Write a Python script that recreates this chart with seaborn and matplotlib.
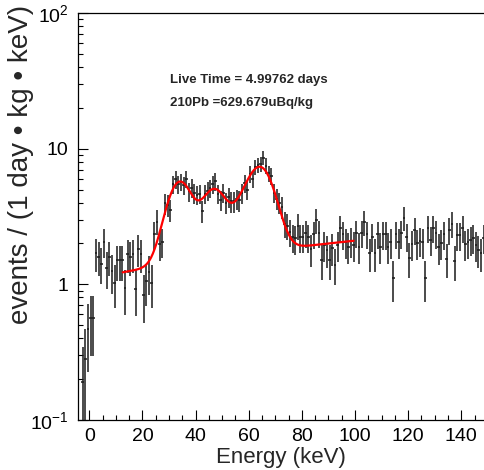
import numpy as np
import pandas as pd
import seaborn as sns
import matplotlib
matplotlib.use("Agg")
import matplotlib.pyplot as plt
from matplotlib.ticker import MultipleLocator, FixedLocator, FixedFormatter, LogLocator, NullFormatter

# ---------------- data ----------------
BIN_LOW_EDGE = -3.0      # keV, low edge of first filled bin
BIN_WIDTH = 1.0          # keV
EXPOSURE = 8.0           # day*kg*keV per bin (sets Poisson error size)

rate = [
    0.19, 0.28, 0.47, 0.56, 0.56, 1.70, 1.60, 1.42, 2.06, 1.33,
    1.59, 1.25, 1.03, 1.50, 1.50, 1.50, 0.94, 1.68, 1.60, 1.68,
    0.93, 1.82, 1.67, 0.84, 1.05, 1.23, 1.03, 2.33, 2.90, 1.97,
    2.06, 3.96, 3.85, 3.53, 5.50, 5.94, 5.50, 5.70, 5.40, 5.97,
    4.85, 5.15, 4.69, 4.58, 4.65, 3.47, 4.65, 4.90, 5.10, 5.50,
    5.75, 4.65, 4.19, 4.75, 4.00, 4.38, 4.08, 4.08, 4.25, 4.15,
    4.69, 5.56, 5.00, 6.50, 5.95, 7.30, 7.60, 7.70, 8.60, 7.50,
    6.60, 6.30, 4.72, 4.27, 4.00, 3.70, 2.80, 2.70, 2.45, 2.23,
    2.18, 2.70, 2.23, 2.23, 2.40, 2.23, 1.82, 2.35, 2.98, 2.40,
    1.51, 1.95, 1.80, 1.51, 1.85, 1.40, 1.95, 2.60, 2.33, 2.05,
    1.90, 2.08, 1.95, 2.40, 1.90, 2.40, 2.88, 2.35, 1.69, 2.25,
    1.69, 2.35, 1.90, 2.33, 2.33, 1.90, 2.05, 1.12, 2.35, 2.05,
    2.38, 3.08, 2.25, 1.56, 1.97, 2.50, 2.00, 2.10, 2.05, 1.12,
    2.60, 2.13, 2.60, 2.38, 1.88, 2.00, 2.33, 1.55, 2.50, 2.80,
    1.48, 2.30, 2.30, 2.60, 1.98, 2.05, 2.13, 2.20, 1.95, 1.79,
    1.70, 2.20,
]

# fit model parameters (linear background + gaussian peaks)
fit_range = [12.6, 99.5]
bkg_const = 1.10
bkg_slope = 0.010
peak_mean = [34.0, 47.0, 57.0, 64.5]
peak_sigma = [4.5, 4.5, 4.0, 4.8]
peak_amp = [4.23, 3.37, 1.14, 5.40]

xticks = [0, 20, 40, 60, 80, 100, 120, 140]
yticks = [0.1, 1, 10, 100]
ytick_labels = [r"$10^{-1}$", "1", "10", r"$10^{2}$"]

# ---------------- build ----------------
rate = np.array(rate)
centers = BIN_LOW_EDGE + BIN_WIDTH * (np.arange(len(rate)) + 0.5)
err = np.sqrt(rate * EXPOSURE) / EXPOSURE
err_lo = np.minimum(err, rate - 1e-4)
err_hi = err

def fit_model(e):
    y = bkg_const + bkg_slope * e
    for m, s, a in zip(peak_mean, peak_sigma, peak_amp):
        y = y + a * np.exp(-0.5 * ((e - m) / s) ** 2)
    return y

fit_e = np.linspace(fit_range[0], fit_range[1], 400)
fit_df = pd.DataFrame({"E": fit_e, "rate": fit_model(fit_e)})

sns.set_style("ticks")
plt.rcParams["font.family"] = ["Liberation Sans", "DejaVu Sans"]
plt.rcParams["mathtext.fontset"] = "custom"
plt.rcParams["mathtext.rm"] = "Liberation Sans"
plt.rcParams["mathtext.it"] = "Liberation Sans:italic"
plt.rcParams["mathtext.bf"] = "Liberation Sans:bold"

fig = plt.figure(figsize=(4.85, 4.70), dpi=100)
fig.patch.set_facecolor("white")
ax = fig.add_axes([78 / 485, 1 - 420 / 470, (485 - 78) / 485, (420 - 13) / 470])
ax.set_facecolor("white")
ax.set_yscale("log")

ax.errorbar(centers, rate, xerr=BIN_WIDTH / 2, yerr=[err_lo, err_hi],
            fmt="none", ecolor="#1a1a1a", elinewidth=1.1, capsize=0, zorder=2)
sns.lineplot(data=fit_df, x="E", y="rate", color="red", linewidth=1.6, ax=ax, zorder=3)

ax.set_xlim(-4.25, 148.95)
ax.set_ylim(0.1, 100)

ax.xaxis.set_major_locator(FixedLocator(xticks))
ax.xaxis.set_minor_locator(MultipleLocator(5))
ax.yaxis.set_major_locator(FixedLocator(yticks))
ax.yaxis.set_major_formatter(FixedFormatter(ytick_labels))
ax.yaxis.set_minor_locator(LogLocator(base=10, subs=np.arange(2, 10)))
ax.yaxis.set_minor_formatter(NullFormatter())

ax.tick_params(which="both", direction="in", top=False, right=False,
               width=0.8, colors="black", labelsize=14)
ax.tick_params(which="major", length=7.5)
ax.tick_params(which="minor", length=3.6)
ax.tick_params(axis="x", which="major", pad=6)
ax.tick_params(axis="y", which="major", pad=7)

for side in ["left", "bottom", "top"]:
    ax.spines[side].set_linewidth(0.9)
    ax.spines[side].set_color("black")
ax.spines["right"].set_visible(False)

ax.set_xlabel("")
ax.set_ylabel("")
fig.text(281 / 485, 1 - 458 / 470, "Energy (keV)", ha="center", va="center", fontsize=16)
fig.text(21 / 485, 1 - 5 / 470, "events / (1 day \u2022 kg \u2022 keV)", rotation=90,
         ha="center", va="top", fontsize=20)

fig.text(170 / 485, 1 - 80 / 470, "Live Time = 4.99762 days", ha="left", va="center",
         fontsize=9.5, fontweight="bold")
fig.text(170 / 485, 1 - 103 / 470, "210Pb =629.679uBq/kg", ha="left", va="center",
         fontsize=9.5, fontweight="bold")

fig.savefig("out.png", dpi=100, facecolor="white")
